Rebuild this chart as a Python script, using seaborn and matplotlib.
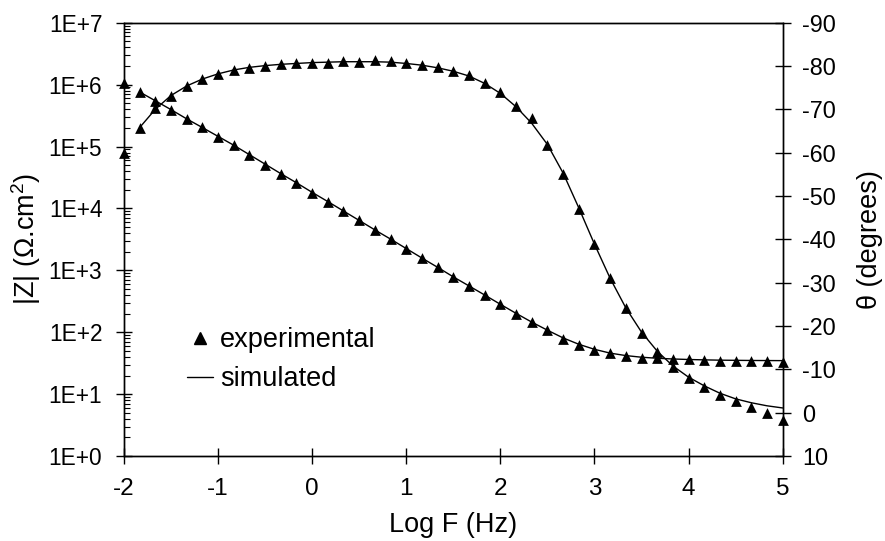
import matplotlib
matplotlib.use("Agg")
import matplotlib.pyplot as plt
import seaborn as sns
import pandas as pd
from matplotlib.lines import Line2D
from matplotlib.ticker import FixedLocator, FuncFormatter, LogLocator, NullFormatter

# ---------------- data ----------------
log_f = [-2.0, -1.833, -1.667, -1.5, -1.333, -1.167, -1.0, -0.833, -0.667, -0.5,
         -0.333, -0.167, 0.0, 0.167, 0.333, 0.5, 0.667, 0.833, 1.0, 1.167,
         1.333, 1.5, 1.667, 1.833, 2.0, 2.167, 2.333, 2.5, 2.667, 2.833,
         3.0, 3.167, 3.333, 3.5, 3.667, 3.833, 4.0, 4.167, 4.333, 4.5,
         4.667, 4.833, 5.0]

exp_mag = [1.05e6, 7.6e5, 5.5e5, 3.9e5, 2.8e5, 2.04e5, 1.45e5, 1.05e5, 7.4e4, 5.1e4,
           3.6e4, 2.6e4, 1.8e4, 1.29e4, 9.1e3, 6.5e3, 4.5e3, 3.2e3, 2.2e3, 1.58e3,
           1.12e3, 776, 562, 398, 282, 200, 145, 107, 79, 63,
           52.5, 45.7, 41.7, 38.9, 38.5, 37.2, 36.3, 35.5, 34.7, 34.7,
           34.7, 34.7, 33.5]

exp_phase = [-60.0, -65.6, -70.3, -73.2, -75.3, -76.9, -78.2, -79.0, -79.6, -80.0,
             -80.4, -80.6, -80.7, -80.8, -81.1, -80.9, -81.3, -81.2, -80.6, -80.3,
             -79.7, -78.8, -77.9, -76.1, -73.9, -70.8, -68.1, -61.7, -55.0, -47.1,
             -38.9, -31.0, -24.1, -18.5, -13.9, -10.5, -8.0, -5.9, -4.1, -2.6,
             -1.3, 0.0, 1.7]

sim_log_f = log_f[1:]
sim_mag = [7.6e5, 5.5e5, 3.95e5, 2.8e5, 2.03e5, 1.46e5, 1.05e5, 7.4e4, 5.2e4, 3.65e4,
           2.6e4, 1.82e4, 1.29e4, 9.1e3, 6.4e3, 4.5e3, 3.2e3, 2.25e3, 1.58e3, 1.12e3,
           785, 560, 400, 283, 202, 146, 108, 81, 64, 53,
           46, 42, 39.5, 38, 37, 36.3, 35.8, 35.4, 35.2, 35,
           34.9, 34.8]
sim_phase = [-65.8, -70.0, -73.2, -75.4, -77.0, -78.2, -79.1, -79.7, -80.1, -80.4,
             -80.6, -80.8, -80.9, -81.0, -81.0, -81.0, -80.9, -80.6, -80.2, -79.6,
             -78.8, -77.7, -76.0, -73.7, -70.6, -66.8, -61.9, -55.3, -47.3, -38.9,
             -31.0, -24.2, -18.6, -14.2, -10.8, -8.2, -6.2, -4.5, -3.2, -2.3,
             -1.6, -1.1]

x_ticks = [-2, -1, 0, 1, 2, 3, 4, 5]
z_ticks = [1e0, 1e1, 1e2, 1e3, 1e4, 1e5, 1e6, 1e7]
z_tick_labels = ["1E+0", "1E+1", "1E+2", "1E+3", "1E+4", "1E+5", "1E+6", "1E+7"]
theta_ticks = [10, 0, -10, -20, -30, -40, -50, -60, -70, -80, -90]

exp_df = pd.DataFrame({"logf": log_f, "mag": exp_mag, "phase": exp_phase})
sim_df = pd.DataFrame({"logf": sim_log_f, "mag": sim_mag, "phase": sim_phase})

# ---------------- style ----------------
sns.set_style("ticks")
plt.rcParams["font.family"] = ["Liberation Sans", "DejaVu Sans"]
plt.rcParams["axes.unicode_minus"] = False
plt.rcParams["mathtext.fontset"] = "custom"
plt.rcParams["mathtext.rm"] = "Liberation Sans"
plt.rcParams["mathtext.default"] = "regular"
for k in ["axes.edgecolor", "text.color", "axes.labelcolor", "xtick.color", "ytick.color"]:
    plt.rcParams[k] = "black"

FS_Y = 16.3
FS_X = 17.5
FS_R = 16.8
FS_LAB = 19.5

fig = plt.figure(figsize=(8.85, 5.41), dpi=100)
ax = fig.add_axes([0.140, 0.157, 0.7444, 0.801])
ax2 = ax.twinx()

# magnitude
sns.lineplot(data=sim_df, x="logf", y="mag", ax=ax, color="black", linewidth=1.0,
             sort=False, legend=False)
sns.scatterplot(data=exp_df, x="logf", y="mag", ax=ax, marker="^", s=60,
                color="black", edgecolor="black", linewidth=0, clip_on=False,
                legend=False, zorder=3)
# phase
sns.lineplot(data=sim_df, x="logf", y="phase", ax=ax2, color="black", linewidth=1.0,
             sort=False, legend=False)
sns.scatterplot(data=exp_df, x="logf", y="phase", ax=ax2, marker="^", s=60,
                color="black", edgecolor="black", linewidth=0, clip_on=False,
                legend=False, zorder=3)

ax.set_xlim(-2, 5)
ax.set_yscale("log")
ax.set_ylim(1e0, 1e7)
ax.xaxis.set_major_locator(FixedLocator(x_ticks))
ax.yaxis.set_major_locator(FixedLocator(z_ticks))
ax.yaxis.set_major_formatter(FuncFormatter(lambda v, p: z_tick_labels[z_ticks.index(v)] if v in z_ticks else ""))
ax.yaxis.set_minor_locator(LogLocator(base=10, subs=[2, 3, 4, 5, 6, 7, 8, 9], numticks=20))
ax.yaxis.set_minor_formatter(NullFormatter())

ax2.set_ylim(10, -90)
ax2.yaxis.set_major_locator(FixedLocator(theta_ticks))
ax2.yaxis.set_minor_locator(FixedLocator([]))

ax.tick_params(axis="x", which="major", direction="inout", length=11, width=1.0,
               labelsize=FS_X, pad=10, top=False)
ax.tick_params(axis="y", which="major", direction="inout", length=11, width=1.0,
               labelsize=FS_Y, pad=10, right=False)
ax.tick_params(axis="y", which="minor", direction="in", length=4, width=0.8, right=False)
ax2.tick_params(axis="y", which="major", direction="inout", length=11, width=1.0,
                labelsize=FS_R, pad=8.5, left=False)

for a in (ax, ax2):
    for sp in a.spines.values():
        sp.set_linewidth(1.0)
        sp.set_color("black")

ax.set_xlabel("Log F (Hz)", fontsize=FS_LAB, labelpad=9)
ax.set_ylabel("|Z| (\u03a9.cm$^{2}$)", fontsize=FS_LAB, labelpad=4)
ax2.set_ylabel("\u03b8 (degrees)", fontsize=FS_LAB, labelpad=15, rotation=90)

handles = [Line2D([], [], color="black", marker="^", linestyle="none", markersize=8),
           Line2D([], [], color="black", linewidth=1.0)]
ax.legend(handles, ["experimental", "simulated"], loc="upper left",
          bbox_to_anchor=(0.0956, 0.297), frameon=False, fontsize=FS_LAB,
          handlelength=0.96, handletextpad=0.26, borderpad=0, borderaxespad=0,
          labelspacing=0.47)

fig.savefig("out.png", dpi=100)
